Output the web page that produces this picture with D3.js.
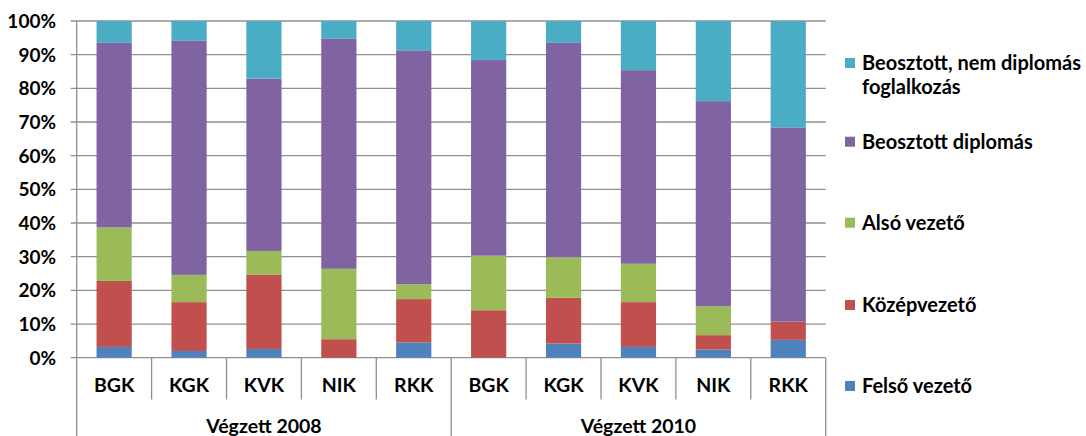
<!DOCTYPE html>
<html>
<head>
<meta charset="utf-8">
<script src="https://cdn.jsdelivr.net/npm/d3@7"></script>
<style>
  body { margin: 0; background: #fff; }
  text { font-family: Lato, "Open Sans", sans-serif; font-weight: bold; fill: #000; }
</style>
</head>
<body>
<script>
/* ------------------------------- data ------------------------------- */
const groups = ["Végzett 2008", "Végzett 2010"];
const faculties = ["BGK", "KGK", "KVK", "NIK", "RKK"];
const seriesNames = ["Felső vezető", "Középvezető", "Alsó vezető", "Beosztott diplomás", "Beosztott, nem diplomás foglalkozás"];
const seriesColors = ["#4F81BD", "#C0504D", "#9BBB59", "#8064A2", "#4BACC6"];
// per bar, order: 2008 BGK..RKK, 2010 BGK..RKK (percent)
const felso   = [3.2, 2.0, 2.6, 0.0, 4.5,   0.0, 4.2, 3.2, 2.4, 5.3];
const kozep   = [19.6, 14.5, 22.0, 5.5, 12.9, 14.1, 13.6, 13.3, 4.3, 5.4];
const also    = [15.9, 8.1, 7.1, 20.9, 4.4,  16.2, 12.0, 11.4, 8.6, 0.0];
const beoDipl = [54.8, 69.5, 51.2, 68.3, 69.5, 58.1, 63.7, 57.5, 60.9, 57.7];
const beoNem  = [6.5, 5.9, 17.1, 5.3, 8.7,  11.6, 6.5, 14.6, 23.8, 31.6];
const yTicks = [0, 10, 20, 30, 40, 50, 60, 70, 80, 90, 100];

/* ----------------------------- layout ------------------------------ */
const width = 1086, height = 436;
const plotLeft = 76.7, plotRight = 825.7, plotTop = 21, plotBottom = 357.7;

const svg = d3.select("body").append("svg")
    .attr("width", width)
    .attr("height", height);

const keys = ["felso", "kozep", "also", "beoDipl", "beoNem"];
const table = d3.range(10).map(i => ({
    idx: i,
    felso: felso[i], kozep: kozep[i], also: also[i], beoDipl: beoDipl[i], beoNem: beoNem[i]
}));
// normalise to 100%
table.forEach(d => {
    const t = d3.sum(keys, k => d[k]);
    keys.forEach(k => d[k] = d[k] / t * 100);
});

const x = d3.scaleBand().domain(d3.range(10)).range([plotLeft, plotRight])
    .paddingInner(0.53).paddingOuter(0.265);
const y = d3.scaleLinear().domain([0, 100]).range([plotBottom, plotTop]);
const color = d3.scaleOrdinal().domain(keys).range(seriesColors);

/* ---------------------------- gridlines ----------------------------- */
svg.append("g").selectAll("line").data(yTicks).enter().append("line")
    .attr("x1", plotLeft - 6).attr("x2", plotRight)
    .attr("y1", d => y(d)).attr("y2", d => y(d))
    .attr("stroke", "#8f8f8f").attr("stroke-width", 1.3);

svg.append("g").selectAll("text").data(yTicks).enter().append("text")
    .attr("x", 56).attr("y", d => y(d)).attr("dy", "0.36em")
    .attr("text-anchor", "end").style("font-size", "19px")
    .text(d => d + "%");

/* ------------------------------ bars -------------------------------- */
const stack = d3.stack().keys(keys)(table);
svg.append("g").selectAll("g").data(stack).enter().append("g")
    .attr("fill", d => color(d.key))
    .selectAll("rect").data(d => d).enter().append("rect")
    .attr("x", d => x(d.data.idx))
    .attr("width", x.bandwidth())
    .attr("y", d => y(d[1]))
    .attr("height", d => Math.max(0, y(d[0]) - y(d[1])));

/* ------------------------------ axes -------------------------------- */
svg.append("line").attr("x1", plotLeft).attr("x2", plotLeft).attr("y1", plotTop).attr("y2", height)
    .attr("stroke", "#8f8f8f").attr("stroke-width", 1.3);
const step = x.step();
// separators between categories; the group boundary runs to the bottom
d3.range(1, 10).forEach(i => {
    const xx = plotLeft + i * step;
    svg.append("line").attr("x1", xx).attr("x2", xx)
        .attr("y1", plotBottom).attr("y2", i === 5 ? height : 399.5)
        .attr("stroke", "#8f8f8f").attr("stroke-width", 1.3);
});
svg.append("line").attr("x1", plotRight).attr("x2", plotRight).attr("y1", plotBottom).attr("y2", height)
    .attr("stroke", "#8f8f8f").attr("stroke-width", 1.3);

svg.append("g").selectAll("text").data(table).enter().append("text")
    .attr("x", d => x(d.idx) + x.bandwidth() / 2)
    .attr("y", 385).attr("dy", "0.36em")
    .attr("text-anchor", "middle").style("font-size", "19.5px")
    .text(d => faculties[d.idx % 5]);

svg.append("g").selectAll("text").data(groups).enter().append("text")
    .attr("x", (d, i) => plotLeft + (i * 5 + 2.5) * step)
    .attr("y", 426).attr("dy", "0.36em")
    .attr("text-anchor", "middle").style("font-size", "19.5px")
    .text(d => d);

/* ----------------------------- legend ------------------------------- */
const legendY = [63, 141.7, 222.7, 305, 386];
const legendIdx = [4, 3, 2, 1, 0];
const lg = svg.append("g").selectAll("g").data(legendIdx).enter().append("g")
    .attr("transform", (d, i) => "translate(845," + legendY[i] + ")");
lg.append("rect").attr("x", 0).attr("y", -5).attr("width", 10).attr("height", 10)
    .attr("fill", d => seriesColors[d]);
lg.append("text").attr("x", 17).attr("dy", "0.36em").style("font-size", "20px")
    .each(function(d) {
        const t = d3.select(this);
        if (d === 4) {
            t.append("tspan").attr("x", 17).text("Beosztott, nem diplomás");
            t.append("tspan").attr("x", 17).attr("dy", "23.7").text("foglalkozás");
        } else {
            t.text(seriesNames[d]);
        }
    });
</script>
</body>
</html>
